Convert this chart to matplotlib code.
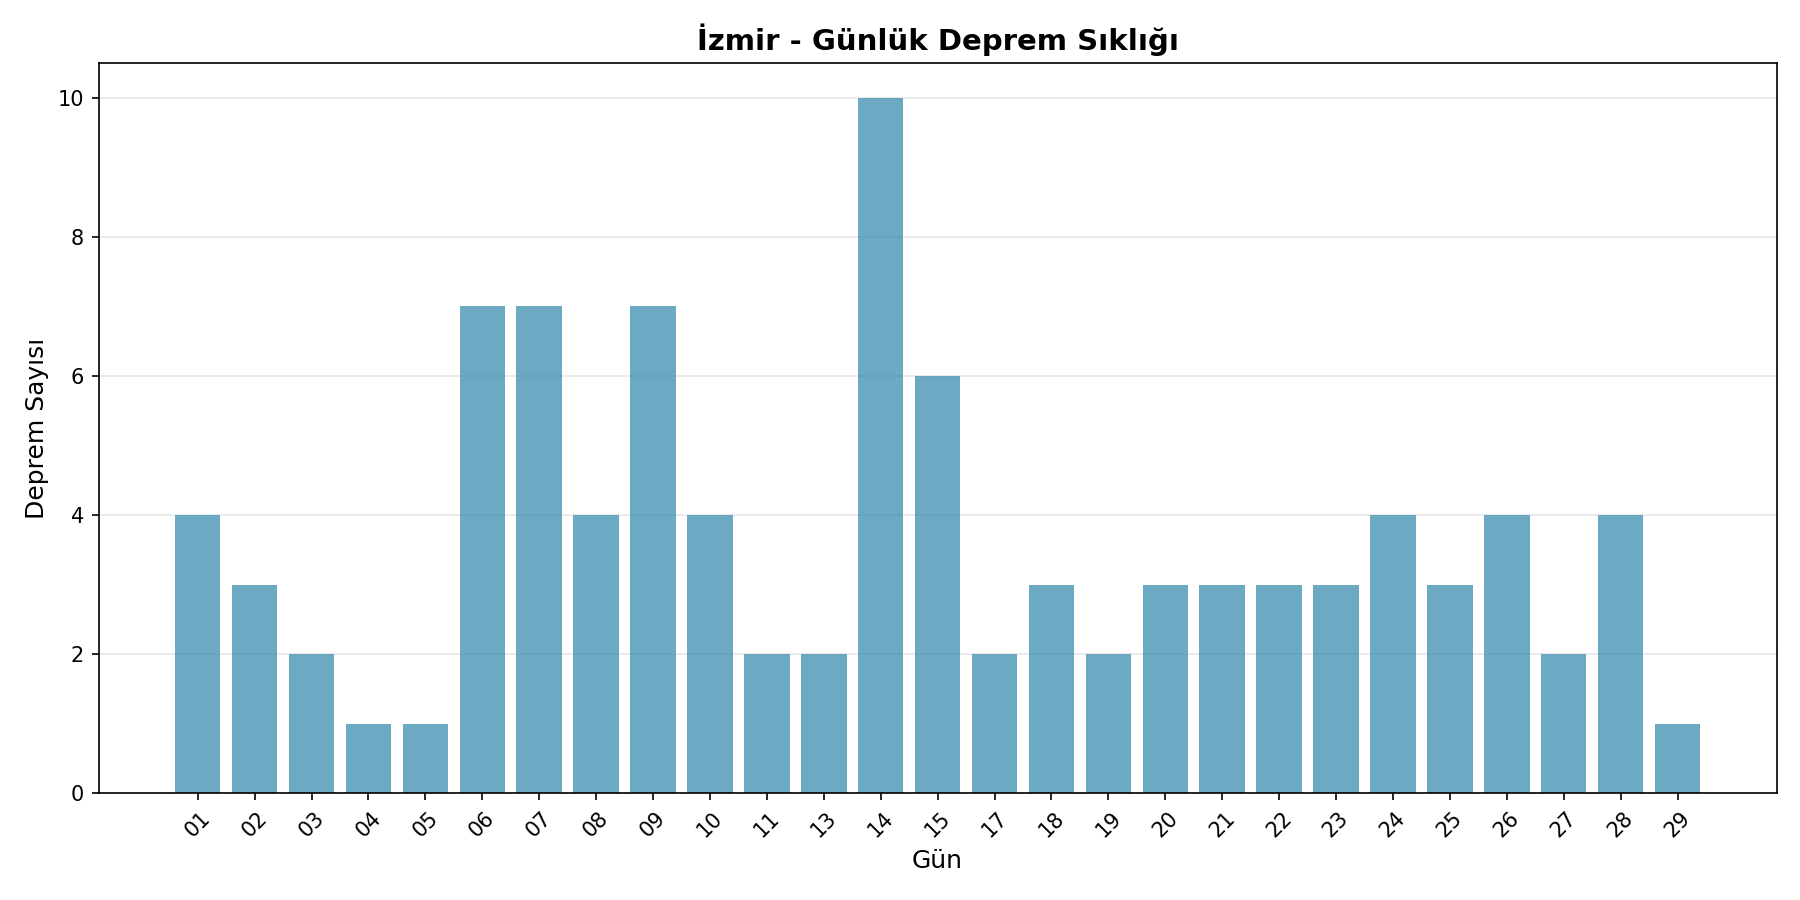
import matplotlib
matplotlib.use("Agg")
import matplotlib.pyplot as plt
import numpy as np

days = ["01","02","03","04","05","06","07","08","09","10","11","13","14","15",
        "17","18","19","20","21","22","23","24","25","26","27","28","29"]
counts = [4,3,2,1,1,7,7,4,7,4,2,2,10,6,2,3,2,3,3,3,3,4,3,4,2,4,1]

fig, ax = plt.subplots(figsize=(12, 6), dpi=150)
ax.bar(days, counts, color="#2E86AB", alpha=0.7)
ax.set_title("İzmir - Günlük Deprem Sıklığı", fontsize=14, fontweight="bold")
ax.set_xlabel("Gün", fontsize=12)
ax.set_ylabel("Deprem Sayısı", fontsize=12)
ax.tick_params(axis="x", rotation=45)
ax.grid(axis="y", alpha=0.3)
ax.set_axisbelow(True)
fig.subplots_adjust(left=0.0548, right=0.987, top=0.930, bottom=0.1186)
fig.savefig("out.png", dpi=150)
